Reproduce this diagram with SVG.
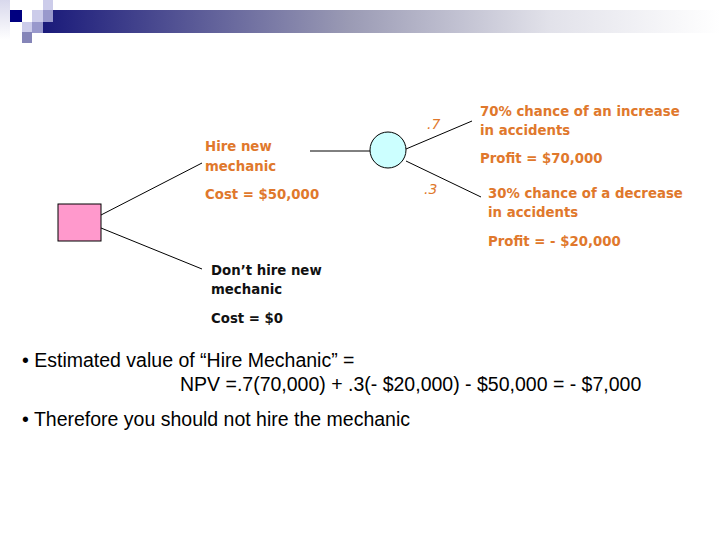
<svg xmlns="http://www.w3.org/2000/svg" width="720" height="540" viewBox="0 0 720 540">
<defs>
<linearGradient id="bar" x1="0" y1="0" x2="1" y2="0">
<stop offset="0" stop-color="#1a1a7a"/>
<stop offset="0.45" stop-color="#9a9ab4"/>
<stop offset="0.75" stop-color="#e2e2ea"/>
<stop offset="1" stop-color="#ffffff"/>
</linearGradient>
<linearGradient id="strip" x1="0" y1="0" x2="0" y2="1">
<stop offset="0" stop-color="#d8d8ec"/>
<stop offset="1" stop-color="#ffffff"/>
</linearGradient>
<style>
.lbl{font-family:"DejaVu Sans",Verdana,sans-serif;font-weight:bold;font-size:13.3px;fill:#e0782c}
.blk{font-family:"DejaVu Sans",Verdana,sans-serif;font-weight:bold;font-size:13.3px;fill:#111}
.prob{font-family:"DejaVu Sans",sans-serif;font-style:italic;font-size:14px;fill:#e0782c}
.body{font-family:"Liberation Sans",Arial,sans-serif;font-size:19.5px;fill:#000}
.conn line{stroke:#000;stroke-width:1}
</style>
</defs>
<g id="header">
<rect x="0" y="0" width="10" height="40" fill="url(#strip)"/>
<rect x="43" y="10" width="677" height="23" fill="url(#bar)"/>
<rect x="10" y="10" width="12" height="12" fill="#000080"/>
<rect x="32" y="10" width="11" height="12" fill="#ccccea"/>
<rect x="43" y="0" width="10" height="10" fill="#ccccea"/>
<rect x="43" y="10" width="10" height="12" fill="#9999cc"/>
<rect x="22" y="22" width="10" height="10" fill="#ccccea"/>
<rect x="32" y="22" width="11" height="11" fill="#9999cc"/>
<rect x="22" y="32" width="10" height="11" fill="#8585b8"/>
</g>
<g class="conn" id="connectors">
<line x1="101" y1="215" x2="202" y2="163"/>
<line x1="101" y1="228" x2="202" y2="269"/>
<line x1="310" y1="151" x2="370" y2="151"/>
<line x1="406" y1="149" x2="472" y2="121"/>
<line x1="406" y1="161" x2="481" y2="197"/>
</g>
<g id="decision">
<rect x="58" y="204" width="43" height="37" fill="#ff99cc" stroke="#000" stroke-width="1"/>
</g>
<g id="chance">
<circle cx="388" cy="150" r="18" fill="#ccffff" stroke="#000" stroke-width="1"/>
</g>
<g id="hire">
<text class="lbl" x="205" y="151">Hire new</text>
<text class="lbl" x="205" y="171">mechanic</text>
<text class="lbl" x="205" y="199">Cost = $50,000</text>
</g>
<g id="p7"><text class="prob" x="427" y="129">.7</text></g>
<g id="p3"><text class="prob" x="424" y="194">.3</text></g>
<g id="increase">
<text class="lbl" x="480" y="116">70% chance of an increase</text>
<text class="lbl" x="480" y="135">in accidents</text>
<text class="lbl" x="480" y="163">Profit = $70,000</text>
</g>
<g id="decrease">
<text class="lbl" x="488" y="198">30% chance of a decrease</text>
<text class="lbl" x="488" y="217">in accidents</text>
<text class="lbl" x="488" y="246">Profit = - $20,000</text>
</g>
<g id="nohire">
<text class="blk" x="211" y="275">Don’t hire new</text>
<text class="blk" x="211" y="294">mechanic</text>
<text class="blk" x="211" y="323">Cost = $0</text>
</g>
<g id="notes">
<text class="body" x="22" y="367">• Estimated value of “Hire Mechanic” =</text>
<text class="body" x="180" y="391">NPV =.7(70,000) + .3(- $20,000) - $50,000 = - $7,000</text>
<text class="body" x="22" y="426">• Therefore you should not hire the mechanic</text>
</g>
</svg>
